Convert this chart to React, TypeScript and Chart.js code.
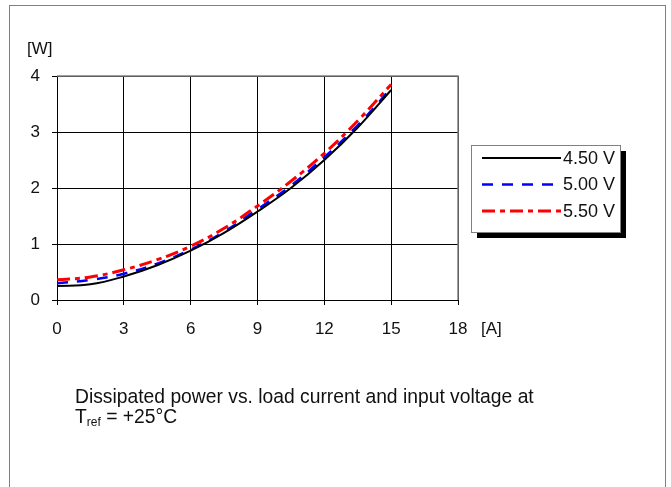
import React, { useEffect, useRef } from "react";
import { Chart, registerables } from "chart.js";

Chart.register(...registerables);

const currents = [0, 1.5, 3, 4.5, 6, 7.5, 9, 10.5, 12, 13.5, 15];
const power450 = [0.25, 0.28, 0.42, 0.62, 0.88, 1.2, 1.58, 2.0, 2.5, 3.08, 3.75];
const power500 = [0.3, 0.36, 0.47, 0.65, 0.9, 1.22, 1.62, 2.04, 2.55, 3.12, 3.78];
const power550 = [0.36, 0.41, 0.54, 0.72, 0.96, 1.28, 1.68, 2.12, 2.62, 3.2, 3.85];
const seriesLabels = ["4.50 V", "5.00 V", "5.50 V"];
const seriesColors = ["#000000", "#0000ff", "#ff0000"];
const xTicks = [0, 3, 6, 9, 12, 15, 18];
const yTicks = [0, 1, 2, 3, 4];

const FONT = "'Liberation Sans', Arial, sans-serif";

const frameLines = {
  id: "frameLines",
  afterDatasetsDraw(chart: any) {
    const { ctx, chartArea } = chart;
    ctx.save();
    ctx.strokeStyle = "#808080";
    ctx.lineWidth = 1.5;
    ctx.beginPath();
    ctx.moveTo(chartArea.left, chartArea.top);
    ctx.lineTo(chartArea.right, chartArea.top);
    ctx.lineTo(chartArea.right, chartArea.bottom);
    ctx.stroke();
    ctx.restore();
  },
};

const boxLegend = {
  id: "boxLegend",
  afterDraw(chart: any) {
    const ctx = chart.ctx;
    const left = 471;
    const top = 145;
    const w = 149;
    const h = 87;
    ctx.save();
    ctx.fillStyle = "#000";
    ctx.fillRect(left + 6, top + 6, w, h);
    ctx.fillStyle = "#fff";
    ctx.fillRect(left, top, w, h);
    ctx.strokeStyle = "#808080";
    ctx.lineWidth = 1;
    ctx.strokeRect(left + 0.5, top + 0.5, w, h);
    chart.data.datasets.forEach((ds: any, i: number) => {
      const y = top + 13 + i * 26.5;
      ctx.strokeStyle = ds.borderColor;
      ctx.lineWidth = ds.borderWidth;
      ctx.setLineDash(ds.borderDash || []);
      ctx.beginPath();
      ctx.moveTo(482, y);
      ctx.lineTo(561, y);
      ctx.stroke();
      ctx.setLineDash([]);
      ctx.fillStyle = "#111";
      ctx.font = "18px " + FONT;
      ctx.textBaseline = "middle";
      ctx.textAlign = "left";
      ctx.fillText(ds.label, 563, y + 1);
    });
    ctx.restore();
  },
};

export default function App() {
  const ref = useRef<HTMLCanvasElement | null>(null);

  useEffect(() => {
    document.body.style.margin = "0";
    const series = [power450, power500, power550];
    const dashes = [[], [11, 9], [13, 5, 5, 5]];
    const widths = [2, 2.5, 3];
    const chart = new Chart(ref.current as HTMLCanvasElement, {
      type: "line",
      data: {
        datasets: series.map((vals, i) => ({
          label: seriesLabels[i],
          data: currents.map((c, j) => ({ x: c, y: vals[j] })),
          borderColor: seriesColors[i],
          backgroundColor: seriesColors[i],
          borderWidth: widths[i],
          borderDash: dashes[i],
          pointRadius: 0,
          tension: 0.4,
          fill: false,
        })),
      },
      options: {
        animation: false,
        responsive: false,
        events: [],
        layout: { padding: { left: 0, top: 76, right: 213, bottom: 0 } },
        plugins: {
          legend: { display: false },
          tooltip: { enabled: false },
        },
        scales: {
          x: {
            type: "linear",
            min: 0,
            max: 18,
            afterFit: (s: any) => {
              s.height = 187;
            },
            afterBuildTicks: (s: any) => {
              s.ticks = xTicks.map((v) => ({ value: v }));
            },
            grid: { color: "#000", lineWidth: 1, tickLength: 5, tickColor: "#000" },
            border: { color: "#000", width: 1 },
            ticks: {
              color: "#111",
              font: { family: FONT, size: 17 },
              padding: 14,
              maxRotation: 0,
            },
          },
          y: {
            type: "linear",
            min: 0,
            max: 4,
            afterFit: (s: any) => {
              s.width = 57;
            },
            afterBuildTicks: (s: any) => {
              s.ticks = yTicks.map((v) => ({ value: v }));
            },
            grid: { color: "#000", lineWidth: 1, tickLength: 5, tickColor: "#000" },
            border: { color: "#000", width: 1 },
            ticks: {
              color: "#111",
              font: { family: FONT, size: 17 },
              padding: 12,
            },
          },
        },
      },
      plugins: [frameLines, boxLegend],
    });
    return () => chart.destroy();
  }, []);

  const textStyle: React.CSSProperties = {
    position: "absolute",
    fontFamily: FONT,
    fontSize: "17px",
    color: "#111",
    lineHeight: "19px",
    whiteSpace: "nowrap",
  };

  return (
    <div style={{ position: "absolute", left: 0, top: 0, width: 671, height: 487, overflow: "hidden", background: "#fff" }}>
      <div
        style={{
          position: "absolute",
          left: 9,
          top: 5,
          width: 657,
          height: 600,
          borderLeft: "1.5px solid #808080",
          borderTop: "1.5px solid #808080",
          borderRight: "1.5px solid #808080",
          boxSizing: "border-box",
        }}
      />
      <canvas ref={ref} width={671} height={487} style={{ position: "absolute", left: 0, top: 0, width: 671, height: 487 }} />
      <div style={{ ...textStyle, left: 27, top: 39 }}>[W]</div>
      <div style={{ ...textStyle, left: 481, top: 319 }}>[A]</div>
      <div style={{ ...textStyle, left: 75, top: 387, fontSize: "19.3px", lineHeight: "20px" }}>
        Dissipated power vs. load current and input voltage at
        <br />
        T<span style={{ fontSize: "12px", verticalAlign: "-3px" }}>ref</span> = +25°C
      </div>
    </div>
  );
}
